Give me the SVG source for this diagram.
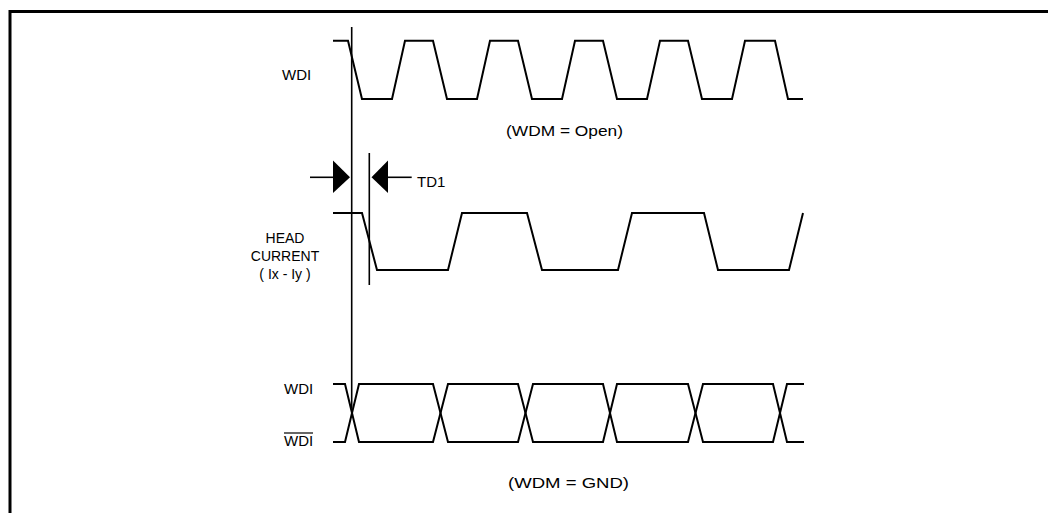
<svg xmlns="http://www.w3.org/2000/svg" width="1048" height="513" viewBox="0 0 1048 513">
<style>
.frame{fill:none;stroke:#000;stroke-width:3}
.wave{fill:none;stroke:#000;stroke-width:2;stroke-linejoin:miter}
.ref{fill:none;stroke:#000;stroke-width:1.6}
.lbl{font-family:"Liberation Sans",Arial,sans-serif;font-size:14px;fill:#000}
.sig{font-family:"Liberation Sans",Arial,sans-serif;font-size:15px;fill:#000}
.cap{font-family:"Liberation Sans",Arial,sans-serif;font-size:15px;fill:#000}
.arr{fill:#000;stroke:none}
</style>
<rect width="1048" height="513" fill="#fff"/>
<path class="frame" d="M10,513 V11.5 H1048"/>

<g id="wdi-open">
<text class="sig" x="282" y="80">WDI</text>
<path class="wave" d="M333,40.7 H348 L362,99 H392 L405,40.7 H433 L447,99 H477 L490,40.7 H518 L532,99 H562 L575,40.7 H603 L617,99 H647 L660,40.7 H688 L702,99 H732 L745,40.7 H775 L788,99 H803"/>
<text class="cap" x="564.5" y="136" text-anchor="middle" textLength="117" lengthAdjust="spacingAndGlyphs">(WDM = Open)</text>
</g>

<g id="head-current">
<text class="lbl" text-anchor="middle"><tspan x="285" y="243">HEAD</tspan><tspan x="285" y="261">CURRENT</tspan><tspan x="285" y="279">( Ix - Iy )</tspan></text>
<path class="wave" d="M333,213 H362 L377,270 H448 L462,213 H527 L542,270 H618 L632,213 H704 L718,270 H789 L803,213"/>
</g>

<g id="wdi-gnd">
<text class="sig" x="284" y="394">WDI</text>
<text class="sig" x="284" y="446">WDI</text>
<line x1="284" y1="433" x2="313" y2="433" stroke="#000" stroke-width="1.2"/>
<path class="wave" d="M333,384 H345 L359,442 H433 L448,384 H518 L533,442 H603 L617,384 H688 L703,442 H773 L787,384 H804"/>
<path class="wave" d="M333,442 H345 L359,384 H433 L448,442 H518 L533,384 H603 L617,442 H688 L703,384 H773 L787,442 H804"/>
<text class="cap" x="568.5" y="488" text-anchor="middle" textLength="121" lengthAdjust="spacingAndGlyphs">(WDM = GND)</text>
</g>

<g id="connectors">
<line class="ref" x1="351.7" y1="27" x2="351.7" y2="408"/>
<line class="ref" x1="369.3" y1="153" x2="369.3" y2="285"/>
<line class="ref" x1="310" y1="177.3" x2="334" y2="177.3"/>
<polygon class="arr" points="333,160.5 333,193 350,177.3"/>
<polygon class="arr" points="388,160.5 388,193 371.5,177.3"/>
<line class="ref" x1="387" y1="177.3" x2="411.7" y2="177.3"/>
<text class="sig" x="417" y="187">TD1</text>
</g>
</svg>
